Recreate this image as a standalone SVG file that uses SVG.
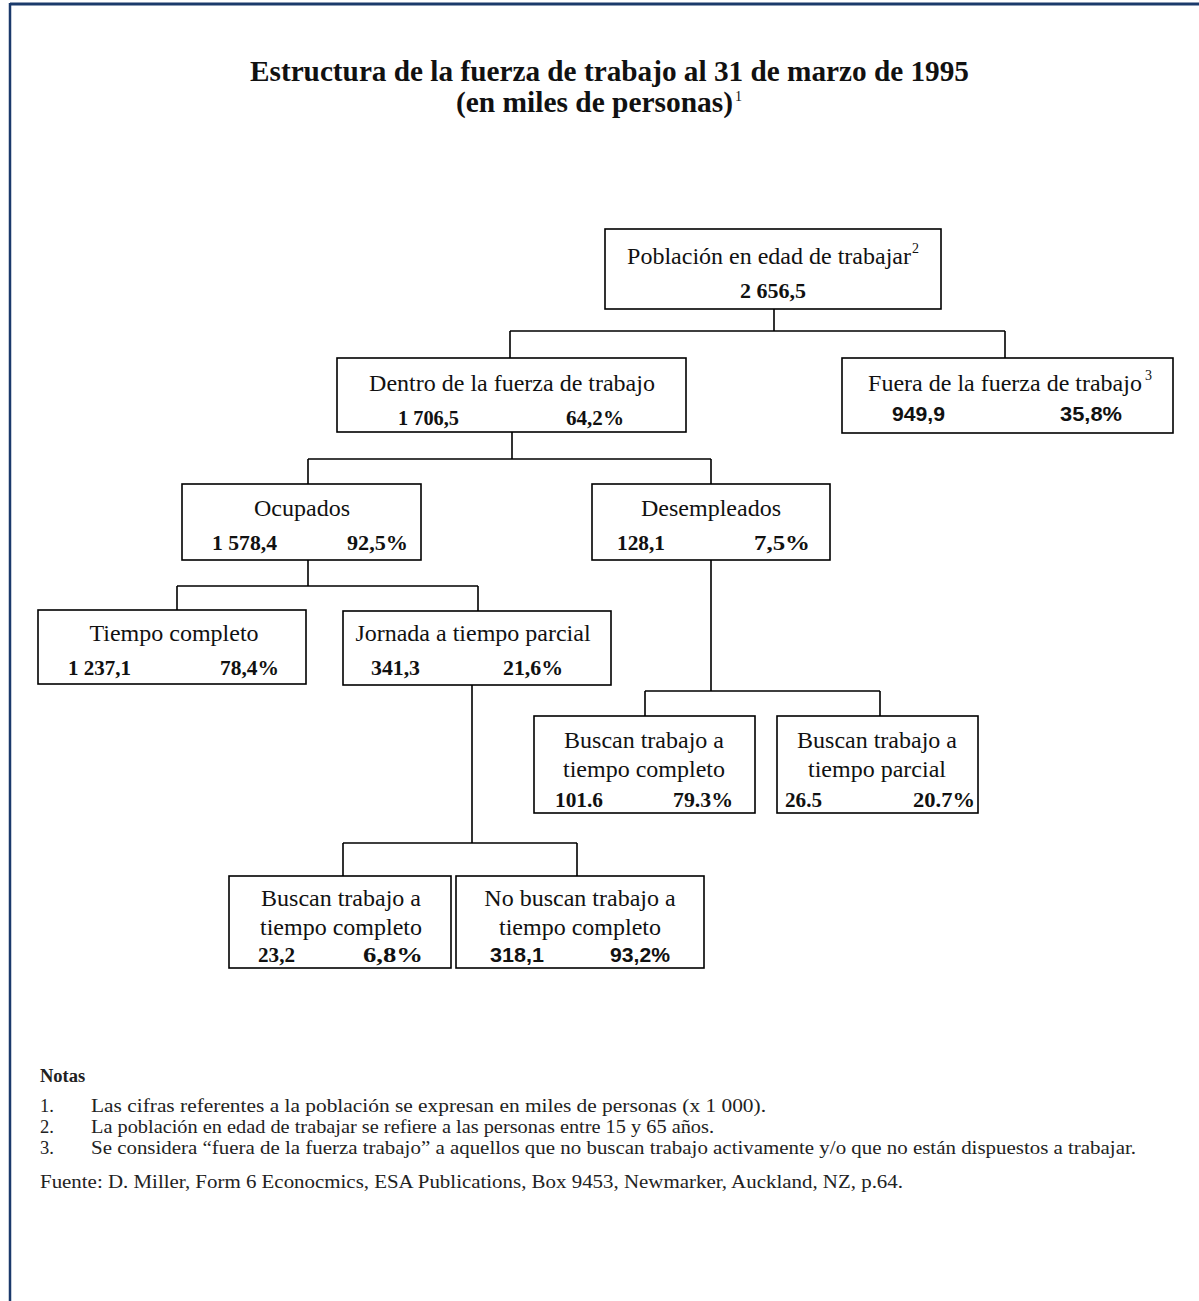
<svg xmlns="http://www.w3.org/2000/svg" width="1199" height="1301" viewBox="0 0 1199 1301">
<style>
.box{fill:#fff;stroke:#000;stroke-width:1.6}
.con{fill:none;stroke:#000;stroke-width:1.6}
.lbl{font-family:"Liberation Serif","Times New Roman",serif;font-size:24px;fill:#111;text-anchor:middle}
.num{font-family:"Liberation Serif","Times New Roman",serif;font-size:22px;font-weight:bold;fill:#111}
.nums{font-family:"Liberation Sans",Arial,sans-serif;font-size:20px;font-weight:bold;fill:#111}
.sup{font-family:"Liberation Serif","Times New Roman",serif;font-size:14px;fill:#111}
.title{font-family:"Liberation Serif","Times New Roman",serif;font-size:29px;font-weight:bold;fill:#111}
.note{font-family:"Liberation Serif","Times New Roman",serif;font-size:18.5px;fill:#222}
</style>
<rect width="1199" height="1301" fill="#fff"/>
<g id="frame">
<line x1="10" y1="4" x2="1199" y2="4" stroke="#1b3a6b" stroke-width="3"/>
<line x1="10" y1="3" x2="10" y2="1301" stroke="#1b3a6b" stroke-width="2.5"/>
</g>
<g id="title">
<text class="title" x="250" y="81" textLength="719" lengthAdjust="spacingAndGlyphs">Estructura de la fuerza de trabajo al 31 de marzo de 1995</text>
<text class="title" x="456" y="112" textLength="277" lengthAdjust="spacingAndGlyphs">(en miles de personas)</text>
<text class="sup" x="735" y="101" font-size="17">1</text>
</g>
<g id="connectors">
<path class="con" d="M774 309V331M510 331H1005M510 331V358M1005 331V358"/>
<path class="con" d="M512 432V459M308 459H711M308 459V484M711 459V484"/>
<path class="con" d="M308 560V586M177 586H478M177 586V610M478 586V611"/>
<path class="con" d="M711 560V691M645 691H880M645 691V716M880 691V716"/>
<path class="con" d="M472 685V843M343 843H577M343 843V876M577 843V876"/>
</g>
<g id="n-poblacion">
<rect class="box" x="605" y="229" width="336" height="80"/>
<text class="lbl" x="769" y="264">Población en edad de trabajar</text>
<text class="sup" x="912" y="253">2</text>
<text class="num" x="740" y="298" textLength="66" lengthAdjust="spacingAndGlyphs">2 656,5</text>
</g>
<g id="n-dentro">
<rect class="box" x="337" y="358" width="349" height="74"/>
<text class="lbl" x="512" y="391">Dentro de la fuerza de trabajo</text>
<text class="num" x="398" y="425" textLength="61" lengthAdjust="spacingAndGlyphs">1 706,5</text>
<text class="num" x="566" y="425" textLength="58" lengthAdjust="spacingAndGlyphs">64,2%</text>
</g>
<g id="n-fuera">
<rect class="box" x="842" y="358" width="331" height="75"/>
<text class="lbl" x="1005" y="391">Fuera de la fuerza de trabajo</text>
<text class="sup" x="1145" y="380">3</text>
<text class="nums" x="892" y="421" textLength="53" lengthAdjust="spacingAndGlyphs">949,9</text>
<text class="nums" x="1060" y="421" textLength="62" lengthAdjust="spacingAndGlyphs">35,8%</text>
</g>
<g id="n-ocupados">
<rect class="box" x="182" y="484" width="239" height="76"/>
<text class="lbl" x="302" y="516">Ocupados</text>
<text class="num" x="212" y="550" textLength="65" lengthAdjust="spacingAndGlyphs">1 578,4</text>
<text class="num" x="347" y="550" textLength="61" lengthAdjust="spacingAndGlyphs">92,5%</text>
</g>
<g id="n-desempleados">
<rect class="box" x="592" y="484" width="238" height="76"/>
<text class="lbl" x="711" y="516">Desempleados</text>
<text class="num" x="617" y="550" textLength="48" lengthAdjust="spacingAndGlyphs">128,1</text>
<text class="num" x="754" y="550" textLength="56" lengthAdjust="spacingAndGlyphs">7,5%</text>
</g>
<g id="n-tiempo-completo">
<rect class="box" x="38" y="610" width="268" height="74"/>
<text class="lbl" x="174" y="641">Tiempo completo</text>
<text class="num" x="68" y="675" textLength="63" lengthAdjust="spacingAndGlyphs">1 237,1</text>
<text class="num" x="220" y="675" textLength="59" lengthAdjust="spacingAndGlyphs">78,4%</text>
</g>
<g id="n-jornada">
<rect class="box" x="343" y="611" width="268" height="74"/>
<text class="lbl" x="473" y="641">Jornada a tiempo parcial</text>
<text class="num" x="371" y="675" textLength="49" lengthAdjust="spacingAndGlyphs">341,3</text>
<text class="num" x="503" y="675" textLength="60" lengthAdjust="spacingAndGlyphs">21,6%</text>
</g>
<g id="n-buscan-completo-d">
<rect class="box" x="534" y="716" width="221" height="97"/>
<text class="lbl" x="644" y="748">Buscan trabajo a</text>
<text class="lbl" x="644" y="777">tiempo completo</text>
<text class="num" x="555" y="807" textLength="48" lengthAdjust="spacingAndGlyphs">101.6</text>
<text class="num" x="673" y="807" textLength="60" lengthAdjust="spacingAndGlyphs">79.3%</text>
</g>
<g id="n-buscan-parcial-d">
<rect class="box" x="777" y="716" width="201" height="97"/>
<text class="lbl" x="877" y="748">Buscan trabajo a</text>
<text class="lbl" x="877" y="777">tiempo parcial</text>
<text class="num" x="785" y="807" textLength="37" lengthAdjust="spacingAndGlyphs">26.5</text>
<text class="num" x="913" y="807" textLength="62" lengthAdjust="spacingAndGlyphs">20.7%</text>
</g>
<g id="n-buscan-completo-j">
<rect class="box" x="229" y="876" width="222" height="92"/>
<text class="lbl" x="341" y="906">Buscan trabajo a</text>
<text class="lbl" x="341" y="935">tiempo completo</text>
<text class="num" x="258" y="962" textLength="37" lengthAdjust="spacingAndGlyphs">23,2</text>
<text class="num" x="363" y="962" textLength="60" lengthAdjust="spacingAndGlyphs">6,8%</text>
</g>
<g id="n-no-buscan-j">
<rect class="box" x="456" y="876" width="248" height="92"/>
<text class="lbl" x="580" y="906">No buscan trabajo a</text>
<text class="lbl" x="580" y="935">tiempo completo</text>
<text class="nums" x="490" y="962" textLength="54" lengthAdjust="spacingAndGlyphs">318,1</text>
<text class="nums" x="610" y="962" textLength="60" lengthAdjust="spacingAndGlyphs">93,2%</text>
</g>
<g id="notes">
<text class="note" x="40" y="1082" font-weight="bold" font-size="18" fill="#111">Notas</text>
<text class="note" x="40" y="1112">1.</text>
<text class="note" x="91" y="1112" textLength="675" lengthAdjust="spacingAndGlyphs">Las cifras referentes a la población se expresan en miles de personas (x 1 000).</text>
<text class="note" x="40" y="1133">2.</text>
<text class="note" x="91" y="1133" textLength="623" lengthAdjust="spacingAndGlyphs">La población en edad de trabajar se refiere a las personas entre 15 y 65 años.</text>
<text class="note" x="40" y="1154">3.</text>
<text class="note" x="91" y="1154" textLength="1045" lengthAdjust="spacingAndGlyphs">Se considera “fuera de la fuerza trabajo” a aquellos que no buscan trabajo activamente y/o que no están dispuestos a trabajar.</text>
<text class="note" x="40" y="1188" textLength="863" lengthAdjust="spacingAndGlyphs">Fuente: D. Miller, Form 6 Econocmics, ESA Publications, Box 9453, Newmarker, Auckland, NZ, p.64.</text>
</g>
</svg>
